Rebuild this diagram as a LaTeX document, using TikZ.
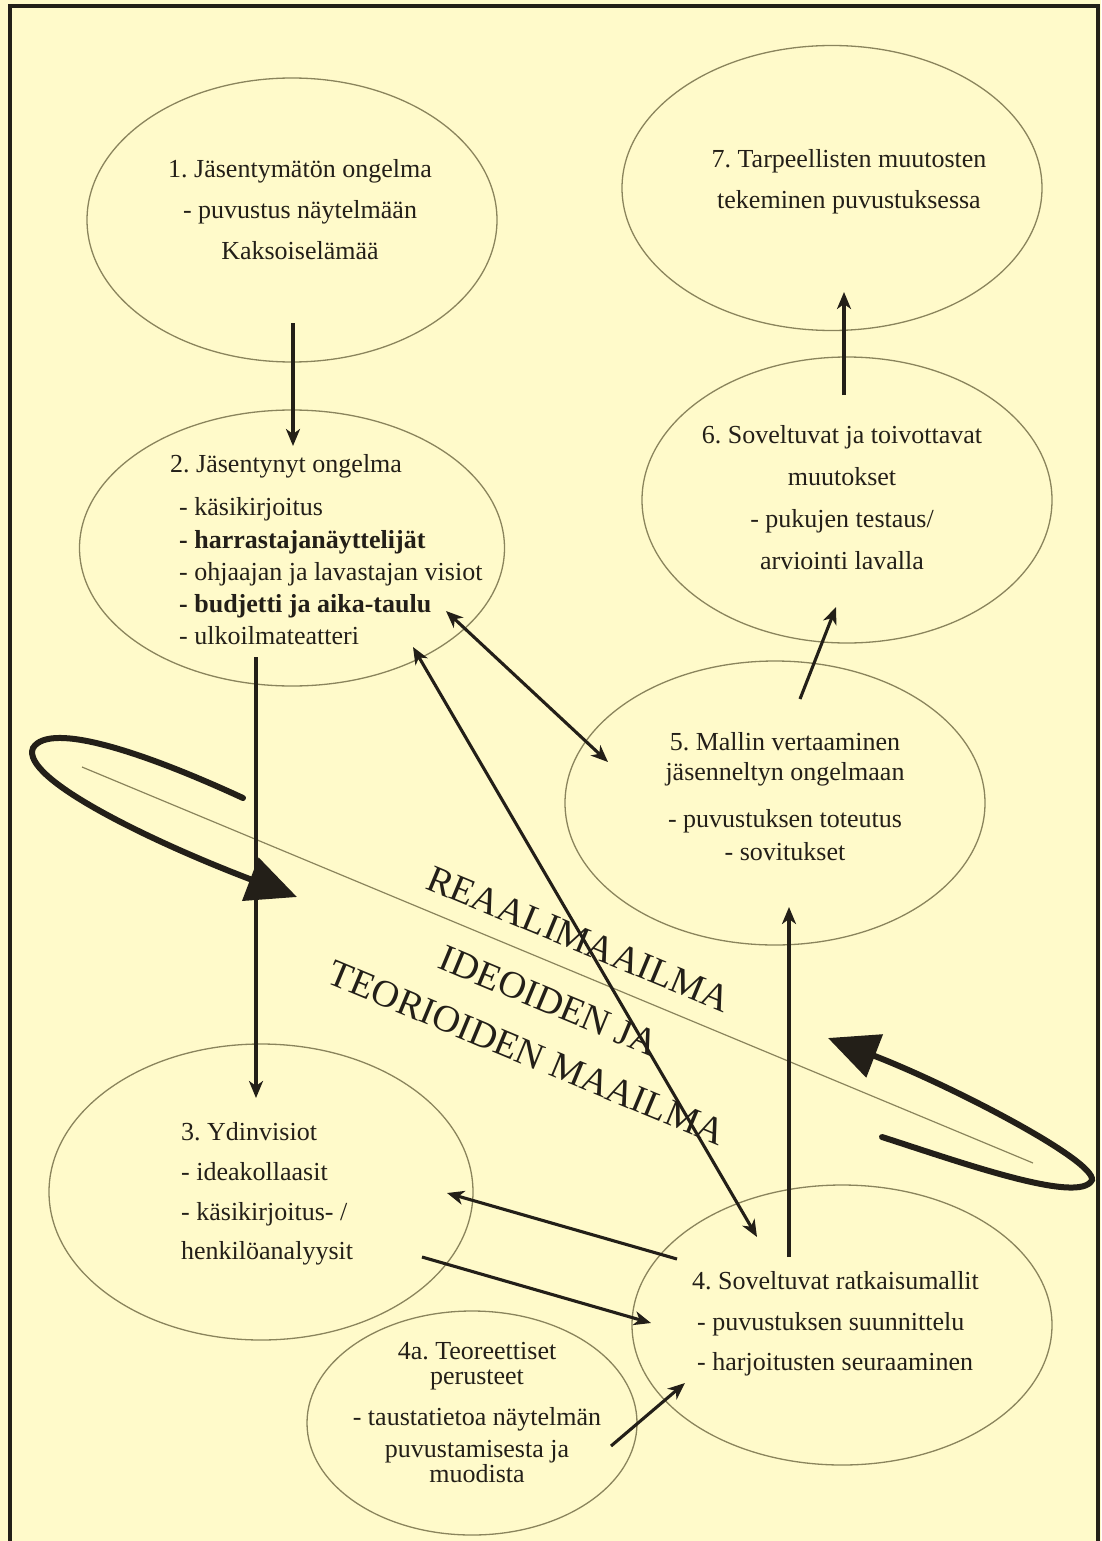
\documentclass[tikz,border=0pt]{standalone}
\usepackage{fontspec}
\setmainfont{Liberation Serif}
\usetikzlibrary{arrows.meta,shapes.geometric}
\definecolor{bg}{RGB}{255,250,202}
\definecolor{ink}{RGB}{35,31,24}
\definecolor{olive}{RGB}{138,132,92}
\frenchspacing
\begin{document}
\begin{tikzpicture}[x=1pt,y=-1pt,
  bub/.style={ellipse, draw=olive, line width=1.3pt, inner sep=0pt},
  txt/.style={text=ink, inner sep=0pt, font=\fontsize{26}{41}\selectfont},
  conn/.style={draw=ink, line width=3.1pt, -{Stealth[length=17pt,width=14pt,inset=5pt]}},
  dconn/.style={draw=ink, line width=3.1pt, {Stealth[length=17pt,width=14pt,inset=5pt]}-{Stealth[length=17pt,width=14pt,inset=5pt]}},
  bigloop/.style={draw=ink, line width=6pt, line cap=round, -{Triangle[length=50pt,width=45pt]}},
  world/.style={text=ink, inner sep=0pt, rotate=-22.6, font=\fontsize{38}{38}\selectfont}]
\fill[bg] (0,0) rectangle (1101,1541);
\useasboundingbox (0,0) rectangle (1101,1541);
\draw[ink, line width=4pt] (9.5,1545) -- (9.5,6) -- (1098,6) -- (1098,1545);

% ellipses
\node[bub, minimum width=410pt, minimum height=284pt] (e1) at (292,220) {};
\node[bub, minimum width=420pt, minimum height=285pt] (e7) at (832,188) {};
\node[bub, minimum width=425pt, minimum height=276pt] (e2) at (292,548) {};
\node[bub, minimum width=410pt, minimum height=286pt] (e6) at (847,500) {};
\node[bub, minimum width=420pt, minimum height=284pt] (e5) at (775,803) {};
\node[bub, minimum width=424pt, minimum height=296pt] (e3) at (261,1192) {};
\node[bub, minimum width=420pt, minimum height=280pt] (e4) at (842,1325) {};
\node[bub, minimum width=330pt, minimum height=224pt] (e4a) at (472,1423) {};

% texts
\node[txt, align=center] (t1) at (300,210) {1. Jäsentymätön ongelma\\- puvustus näytelmään\\Kaksoiselämää};
\node[txt, align=center] (t7) at (849,182) {7. Tarpeellisten muutosten\\tekeminen puvustuksessa};
\node[txt, align=center, font=\fontsize{26}{42}\selectfont] (t6) at (842,498) {6. Soveltuvat ja toivottavat\\muutokset\\- pukujen testaus/\\arviointi lavalla};
\node[txt, align=left, anchor=west, font=\fontsize{26}{32.3}\selectfont] (t2) at (170,550) {2. Jäsentynyt ongelma\\[10.7pt]\hspace*{9pt}- käsikirjoitus\\\hspace*{9pt}\textbf{- harrastajanäyttelijät}\\\hspace*{9pt}- ohjaajan ja lavastajan visiot\\\hspace*{9pt}\textbf{- budjetti ja aika-taulu}\\\hspace*{9pt}- ulkoilmateatteri};
\node[txt, align=center, font=\fontsize{26}{30}\selectfont] (t5) at (785,797) {5. Mallin vertaaminen\\jäsenneltyn ongelmaan\\[17pt]- puvustuksen toteutus\\[3pt]- sovitukset};
\node[txt, align=left, anchor=west, font=\fontsize{26}{39.7}\selectfont] (t3) at (181,1194) {3. Ydinvisiot\\- ideakollaasit\\- käsikirjoitus- /\\henkilöanalyysit};
\node[txt, align=left, anchor=west, font=\fontsize{26}{40.5}\selectfont] (t4) at (692,1324) {4. Soveltuvat ratkaisumallit\\\hspace*{5pt}- puvustuksen suunnittelu\\\hspace*{5pt}- harjoitusten seuraaminen};
\node[txt, align=center, font=\fontsize{26}{25}\selectfont] (t4a) at (477,1413) {4a. Teoreettiset\\perusteet\\[16pt]- taustatietoa näytelmän\\[7pt]puvustamisesta ja\\muodista};

% world divider and labels
\coordinate (dl) at (82,767);
\coordinate (dr) at (1033,1163);
\draw[olive, line width=1.2pt] (dl) -- (dr);
\node[world] (wr) at (579,939) {REAALIMAAILMA};
\node[world] (wi) at (549,1001) {IDEOIDEN JA};
\node[world] (wt) at (527,1053) {TEORIOIDEN MAAILMA};

% connector end points
\coordinate (a12s) at (293,323);  \coordinate (a12e) at (293,446);
\coordinate (a23s) at (256,657);  \coordinate (a23e) at (256,1098);
\coordinate (a25a) at (446,611);  \coordinate (a25b) at (608,762);
\coordinate (a24a) at (413,647);  \coordinate (a24b) at (757,1237);
\coordinate (a43s) at (677,1259); \coordinate (a43e) at (447,1193);
\coordinate (a34s) at (422,1257); \coordinate (a34e) at (651,1323);
\coordinate (a45s) at (789,1257); \coordinate (a45e) at (789,907);
\coordinate (a56s) at (800,699);  \coordinate (a56e) at (836,607);
\coordinate (a67s) at (844,395);  \coordinate (a67e) at (844,292);
\coordinate (a4as) at (611,1446); \coordinate (a4ae) at (685,1383);

\draw[conn] (a12s) -- (a12e);
\draw[conn] (a23s) -- (a23e);
\draw[dconn] (a25a) -- (a25b);
\draw[dconn] (a24a) -- (a24b);
\draw[conn] (a43s) -- (a43e);
\draw[conn] (a34s) -- (a34e);
\draw[conn] (a45s) -- (a45e);
\draw[conn] (a56s) -- (a56e);
\draw[conn] (a67s) -- (a67e);
\draw[conn] (a4as) -- (a4ae);

% loops
\coordinate (lls) at (243,798); \coordinate (llm) at (33,748); \coordinate (lle) at (297,897);
\coordinate (rls) at (882,1137); \coordinate (rlm) at (1092,1180); \coordinate (rle) at (828,1038);
\draw[bigloop] (lls) .. controls (150,755) and (50,720) .. (llm) .. controls (20,778) and (150,841) .. (lle);
\draw[bigloop] (rls) .. controls (960,1162) and (1080,1205) .. (rlm) .. controls (1095,1160) and (950,1085) .. (rle);
\end{tikzpicture}
\end{document}
